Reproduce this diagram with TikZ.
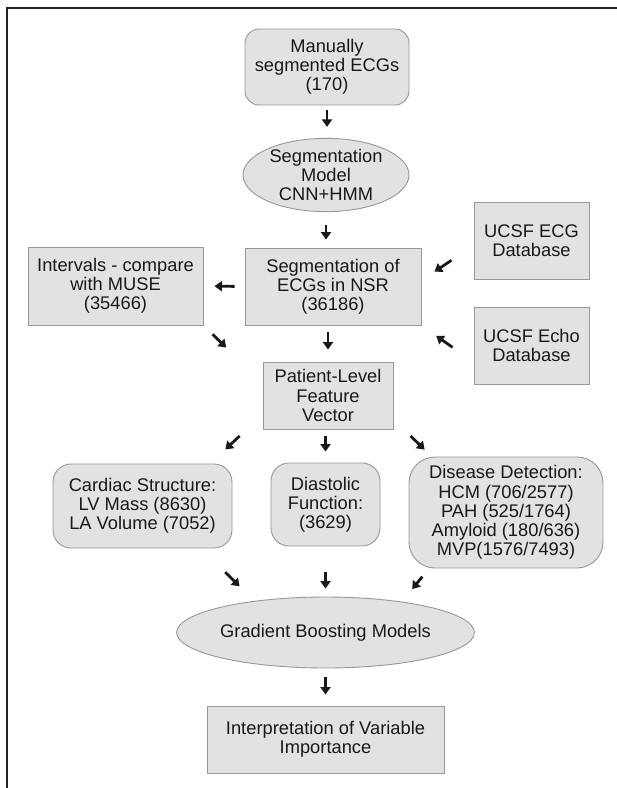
\documentclass[tikz,border=0pt]{standalone}
\usepackage{fontspec}
\setmainfont{Liberation Sans}
\usetikzlibrary{shapes.geometric,arrows.meta}
\definecolor{boxfill}{HTML}{E2E2E2}
\definecolor{boxedge}{HTML}{979797}
\definecolor{framecol}{HTML}{222222}
\begin{document}
\begin{tikzpicture}[x=1pt,y=-1pt,
  every node/.style={font=\fontsize{18.3}{19.2}\selectfont, align=center, inner sep=0pt, text=black!90},
  sqbox/.style={draw=boxedge, fill=boxfill, line width=0.9pt, rectangle},
  rbox/.style={sqbox, rounded corners=#1},
  ovalbox/.style={draw=boxedge, fill=boxfill, line width=0.9pt, ellipse},
  arr/.style={draw=black!90, line width=2.8pt, -{Triangle[length=7.5pt,width=10pt]}},
]
\useasboundingbox (0,0) rectangle (617,788);
\draw[framecol, line width=2.2pt] (6,8.3) -- (617,8.3);
\draw[framecol, line width=2.2pt] (7,7.2) -- (7,788);

\node[rbox=14pt, minimum width=164pt, minimum height=76pt] (manual) at (327,67) {Manually\\segmented ECGs\\(170)};
\node[ovalbox, minimum width=166pt, minimum height=71pt] (segmodel) at (326,175) {Segmentation\\Model\\CNN+HMM};
\node[sqbox, minimum width=176pt, minimum height=77pt] (seg) at (333,286.5) {Segmentation of\\ECGs in NSR\\(36186)};
\node[sqbox, minimum width=175pt, minimum height=78pt] (intervals) at (115.5,286) {Intervals - compare\\with MUSE\\(35466)};
\node[sqbox, minimum width=115pt, minimum height=77pt] (ecgdb) at (531.5,240.5) {UCSF ECG\\Database};
\node[sqbox, minimum width=115pt, minimum height=77pt] (echodb) at (531.5,345.5) {UCSF Echo\\Database};
\node[sqbox, minimum width=130pt, minimum height=67pt] (patient) at (328,395.5) {Patient-Level\\Feature\\Vector};
\node[rbox=18pt, minimum width=179pt, minimum height=84pt] (cardiac) at (142.5,506) {Cardiac Structure:\\LV Mass (8630)\\LA Volume (7052)};
\node[rbox=18pt, minimum width=109pt, minimum height=83pt] (diastolic) at (325.5,504.5) {Diastolic\\Function:\\(3629)};
\node[rbox=26pt, minimum width=194pt, minimum height=111pt] (disease) at (506,512.5) {Disease Detection:\\HCM (706/2577)\\PAH (525/1764)\\Amyloid (180/636)\\MVP(1576/7493)};
\node[ovalbox, minimum width=287pt, minimum height=71pt] (gbm) at (325.5,632.5) {Gradient Boosting Models};
\node[sqbox, minimum width=237pt, minimum height=67pt] (interp) at (325.5,739.5) {Interpretation of Variable\\Importance};

\draw[arr, shorten <=5pt, shorten >=11pt] (manual.south) -- (manual.south |- segmodel.north);
\draw[arr, shorten <=13pt, shorten >=8pt] (segmodel.south) -- (segmodel.south |- seg.north);
\draw[arr, shorten <=10pt, shorten >=11pt] (seg.west) -- (intervals.east);
\draw[arr, shorten <=26.5pt, shorten >=15.6pt] (ecgdb.185) -- (seg.4);
\draw[arr, shorten <=25.7pt, shorten >=18pt] (echodb.196) -- (seg.south east);
\draw[arr, shorten <=12.7pt, shorten >=50.6pt] (intervals.south east) -- (patient.169);
\draw[arr, shorten <=7pt, shorten >=12pt] (patient.north |- seg.south) -- (patient.north);
\draw[arr, shorten <=31.5pt, shorten >=20.5pt] (patient.196) -- (cardiac.32);
\draw[arr, shorten <=7pt, shorten >=11pt] (diastolic.north |- patient.south) -- (diastolic.north);
\draw[arr, shorten <=24pt, shorten >=9.9pt] (patient.340) -- (disease.143);
\draw[arr, shorten <=33.9pt, shorten >=20.8pt] (cardiac.324) -- (gbm.156);
\draw[arr, shorten <=26pt, shorten >=8pt] (diastolic.south) -- (gbm.north);
\draw[arr, shorten <=10.6pt, shorten >=16.2pt] (disease.216) -- (gbm.22);
\draw[arr, shorten <=9pt, shorten >=11pt] (gbm.south) -- (interp.north);
\end{tikzpicture}
\end{document}
